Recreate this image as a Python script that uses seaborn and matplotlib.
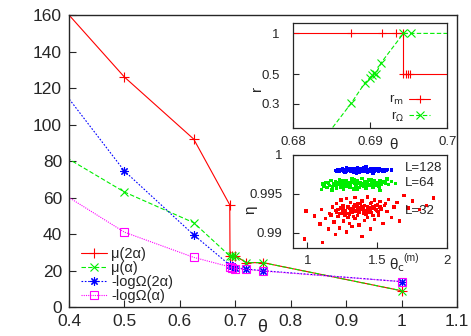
import numpy as np
import pandas as pd
import matplotlib
matplotlib.use("Agg")
import matplotlib.pyplot as plt
import seaborn as sns

sns.set_style("ticks")
plt.rcParams['font.family'] = ['Liberation Sans', 'DejaVu Sans']

# ---------------- main panel data ----------------
theta_mu2 = [0.375, 0.5, 0.625, 0.690, 0.6905, 0.694, 0.70, 0.72, 0.75, 1.0]
mu2 = [168.5, 126, 92, 56, 28, 28, 28, 24.3, 24.3, 8.9]
theta_mu1 = [0.375, 0.5, 0.625, 0.690, 0.694, 0.70, 0.72, 0.75, 1.0]
mu1 = [85.5, 63, 46.2, 28, 28, 28, 24.3, 24.3, 8.9]
theta_om2 = [0.375, 0.5, 0.625, 0.690, 0.694, 0.70, 0.72, 0.75, 1.0]
om2 = [124, 74.5, 39.5, 23, 22.2, 21.5, 20.8, 19.9, 13.9]
theta_om1 = [0.375, 0.5, 0.625, 0.690, 0.694, 0.70, 0.72, 0.75, 1.0]
om1 = [64.75, 41, 27.2, 22, 21.6, 21, 20.6, 19.7, 13.9]

main_xticks = [0.4, 0.5, 0.6, 0.7, 0.8, 0.9, 1.0, 1.1]
main_xticklabels = ['0.4', '0.5', '0.6', '0.7', '0.8', '0.9', '1', '1.1']
main_yticks = [0, 20, 40, 60, 80, 100, 120, 140, 160]

# ---------------- inset 1 data ----------------
theta_rm = [0.670, 0.6875, 0.6915, 0.6933, 0.6943, 0.6943, 0.6946, 0.6949, 0.6952, 0.710]
rm = [1, 1, 1, 1, 1, 0.5, 0.5, 0.5, 0.5, 0.5]
theta_rom = [0.683, 0.6875, 0.6893, 0.6899, 0.6902, 0.6905, 0.6907, 0.6914, 0.6943, 0.6953, 0.710]
rom = [0.14, 0.303, 0.43, 0.465, 0.49, 0.51, 0.50, 0.606, 1, 1, 1]

# ---------------- inset 2 data (point clouds) ----------------
L128_x = [1.20, 1.21, 1.22, 1.23, 1.24, 1.25, 1.26, 1.27, 1.28, 1.29, 1.30, 1.31, 1.32, 1.33,
          1.34, 1.35, 1.36, 1.37, 1.38, 1.39, 1.40, 1.41, 1.42, 1.43, 1.44, 1.45, 1.46, 1.47,
          1.48, 1.49, 1.50, 1.51, 1.52, 1.53, 1.55, 1.57, 1.60,
          1.305, 1.315, 1.325, 1.335, 1.345, 1.355, 1.365, 1.375, 1.385, 1.395, 1.405, 1.415,
          1.425, 1.435, 1.445, 1.455, 1.465, 1.475, 1.485, 1.35, 1.42, 1.28, 1.47,
          1.255, 1.275, 1.295, 1.495, 1.515, 1.535, 1.545, 1.565]
L128_y = [0.99800, 0.99790, 0.99812, 0.99785, 0.99805, 0.99822, 0.99795, 0.99778, 0.99815,
          0.99800, 0.99830, 0.99788, 0.99810, 0.99772, 0.99825, 0.99798, 0.99840, 0.99780,
          0.99815, 0.99800, 0.99835, 0.99790, 0.99818, 0.99776, 0.99808, 0.99828, 0.99795,
          0.99812, 0.99785, 0.99820, 0.99800, 0.99790, 0.99815, 0.99805, 0.99795, 0.99812,
          0.99805,
          0.99805, 0.99822, 0.99795, 0.99808, 0.99785, 0.99818, 0.99800, 0.99830, 0.99792,
          0.99812, 0.99805, 0.99825, 0.99798, 0.99815, 0.99788, 0.99808, 0.99822, 0.99800,
          0.99808, 0.99765, 0.99845, 0.99832, 0.99770,
          0.99808, 0.99790, 0.99818, 0.99810, 0.99825, 0.99792, 0.99815, 0.99800]
L64_x = [1.11, 1.12, 1.13, 1.14, 1.15, 1.16, 1.17, 1.18, 1.19, 1.20, 1.21, 1.22, 1.23, 1.24,
         1.25, 1.26, 1.27, 1.28, 1.29, 1.30, 1.31, 1.32, 1.33, 1.34, 1.35, 1.36, 1.37, 1.38,
         1.39, 1.40, 1.41, 1.42, 1.43, 1.44, 1.45, 1.46, 1.47, 1.48, 1.49, 1.50, 1.51, 1.52,
         1.53, 1.54, 1.56, 1.58, 1.60, 1.63,
         1.185, 1.205, 1.225, 1.245, 1.265, 1.285, 1.305, 1.325, 1.345, 1.365, 1.385, 1.405,
         1.425, 1.445, 1.465, 1.485, 1.505, 1.525, 1.255, 1.355, 1.455, 1.305, 1.415, 1.175,
         1.52, 1.57, 1.10,
         1.215, 1.275, 1.335, 1.395, 1.435, 1.475, 1.515, 1.235, 1.315, 1.375, 1.495]
L64_y = [0.99625, 0.99600, 0.99650, 0.99580, 0.99640, 0.99610, 0.99670, 0.99590, 0.99635,
         0.99660, 0.99570, 0.99620, 0.99685, 0.99600, 0.99645, 0.99555, 0.99630, 0.99675,
         0.99595, 0.99650, 0.99610, 0.99690, 0.99565, 0.99640, 0.99605, 0.99665, 0.99585,
         0.99625, 0.99700, 0.99600, 0.99655, 0.99575, 0.99635, 0.99680, 0.99610, 0.99650,
         0.99590, 0.99665, 0.99625, 0.99645, 0.99600, 0.99670, 0.99630, 0.99655, 0.99640,
         0.99620, 0.99660, 0.99635,
         0.99625, 0.99610, 0.99650, 0.99635, 0.99600, 0.99640, 0.99625, 0.99655, 0.99615,
         0.99640, 0.99605, 0.99630, 0.99660, 0.99620, 0.99640, 0.99610, 0.99635, 0.99620,
         0.99675, 0.99565, 0.99685, 0.99585, 0.99595, 0.99550, 0.99545, 0.99690, 0.99560,
         0.99645, 0.99615, 0.99680, 0.99630, 0.99605, 0.99660, 0.99590, 0.99590, 0.99670,
         0.99645, 0.99615]
L32_x = [0.98, 0.99, 1.05, 1.09, 1.11, 1.10, 1.13, 1.15, 1.16, 1.18, 1.19, 1.20, 1.20, 1.21,
         1.22, 1.23, 1.24, 1.24, 1.25, 1.26, 1.26, 1.27, 1.28, 1.28, 1.29, 1.30, 1.30, 1.31,
         1.32, 1.32, 1.33, 1.34, 1.34, 1.35, 1.36, 1.36, 1.37, 1.38, 1.39, 1.39, 1.40, 1.41,
         1.41, 1.42, 1.43, 1.43, 1.44, 1.45, 1.45, 1.46, 1.47, 1.48, 1.48, 1.49, 1.50, 1.51,
         1.52, 1.53, 1.54, 1.55, 1.57, 1.58, 1.60, 1.62, 1.64, 1.66, 1.69, 1.72, 1.75, 1.80,
         1.90, 1.85,
         1.22, 1.25, 1.27, 1.29, 1.31, 1.33, 1.35, 1.37, 1.38, 1.40, 1.42, 1.44, 1.46, 1.47,
         1.49, 1.50, 1.52, 1.23, 1.33, 1.43,
         1.21, 1.26, 1.30, 1.34, 1.39, 1.45, 1.51, 1.56, 1.17, 1.36, 1.41, 1.48,
         1.255, 1.285, 1.315, 1.345, 1.375, 1.405, 1.435, 1.465, 1.495, 1.525]
L32_y = [0.98920, 0.99280, 0.99215, 0.99110, 0.98875, 0.99300, 0.99180, 0.99050, 0.99250,
         0.99330, 0.99140, 0.98975, 0.99290, 0.99380, 0.99210, 0.99060, 0.99320, 0.99420,
         0.99250, 0.99150, 0.99350, 0.99280, 0.99010, 0.99440, 0.99200, 0.99310, 0.99120,
         0.99390, 0.99260, 0.99080, 0.99340, 0.99180, 0.99450, 0.99280, 0.99220, 0.99370,
         0.99100, 0.99300, 0.98955, 0.99410, 0.99250, 0.99160, 0.99350, 0.99290, 0.99460,
         0.99200, 0.99320, 0.99050, 0.99380, 0.99260, 0.99340, 0.99420, 0.99170, 0.99300,
         0.99360, 0.99230, 0.99400, 0.99310, 0.99120, 0.99350, 0.99270, 0.99430, 0.99200,
         0.99330, 0.99390, 0.99150, 0.99480, 0.99320, 0.99410, 0.99300, 0.99445, 0.99350,
         0.99300, 0.99350, 0.99230, 0.99330, 0.99270, 0.99210, 0.99340, 0.99260, 0.99380,
         0.99310, 0.99240, 0.99280, 0.99390, 0.99220, 0.99350, 0.99270, 0.99330, 0.99250,
         0.99300, 0.99330,
         0.99260, 0.99310, 0.99240, 0.99360, 0.99330, 0.99290, 0.99270, 0.99380, 0.99230,
         0.99300, 0.99270, 0.99330,
         0.99280, 0.99250, 0.99305, 0.99275, 0.99320, 0.99285, 0.99260, 0.99310, 0.99285,
         0.99300]

RED, GREEN, BLUE, MAG = '#ff0000', '#00ee00', '#0000ff', '#ff00ff'

fig = plt.figure(figsize=(4.71, 3.36), dpi=100)
ax = fig.add_axes([0.1465, 0.0863, 0.8238, 0.869])

def line(a, x, y, color, marker, ls, label, ms=6, mfc=None, lw=0.8):
    sns.lineplot(x=x, y=y, ax=a, color=color, marker=marker, linestyle=ls,
                 sort=False, estimator=None, label=label, linewidth=lw,
                 markersize=ms, markeredgecolor=color, markeredgewidth=0.8,
                 markerfacecolor=(color if mfc is None else mfc), clip_on=True)

line(ax, theta_mu2, mu2, RED, '+', '-', 'μ(2α)', ms=7)
line(ax, theta_mu1, mu1, GREEN, 'x', (0, (4, 2)), 'μ(α)', ms=6)
line(ax, theta_om2, om2, BLUE, (8, 2, 0), (0, (1.5, 1.5)), '-logΩ(2α)', ms=6)
line(ax, theta_om1, om1, MAG, 's', (0, (1, 1)), '-logΩ(α)', ms=6, mfc='none')

ax.set_xlim(0.4, 1.1)
ax.set_ylim(0, 160)
ax.set_xticks(main_xticks)
ax.set_xticklabels(main_xticklabels)
ax.set_yticks(main_yticks)
ax.tick_params(direction='in', length=5, width=0.8, labelsize=12.5,
               top=False, right=False)
ax.tick_params(axis='y', pad=5)
ax.tick_params(axis='x', pad=5)
for s in ax.spines.values():
    s.set_visible(True)
    s.set_linewidth(1.0)
ax.set_xlabel('')
ax.set_ylabel('')
fig.text(262 / 471, 1 - 327 / 336, 'θ', fontsize=13, ha='center', va='center')

h, l = ax.get_legend_handles_labels()
ax.legend(h, l, loc='lower left', bbox_to_anchor=(0.03, 0.015), frameon=False,
          fontsize=10.5, handlelength=1.8, handletextpad=0.3, labelspacing=0.0,
          borderpad=0, borderaxespad=0)

# ---------------- inset 1 ----------------
ax1 = fig.add_axes([0.6228, 0.6199, 0.327, 0.3125])
line(ax1, theta_rm, rm, RED, '+', '-', r'r$_{\mathrm{m}}$', ms=6)
line(ax1, theta_rom, rom, GREEN, 'x', (0, (4, 2)), 'r$_{Ω}$', ms=6)
ax1.set_yscale('log')
ax1.set_xlim(0.68, 0.70)
ax1.set_ylim(0.2, 1.2)
ax1.set_xticks([0.68, 0.69, 0.70])
ax1.set_xticklabels(['0.68', '0.69', '0.7'])
ax1.set_yticks([0.3, 0.5, 1])
ax1.set_yticklabels(['0.3', '0.5', '1'])
ax1.yaxis.set_minor_locator(matplotlib.ticker.NullLocator())
ax1.tick_params(direction='in', length=4, width=0.8, labelsize=9.5,
                top=False, right=False)
ax1.tick_params(axis='y', pad=10)
ax1.tick_params(axis='x', pad=6)
ax1.set_xlabel('')
ax1.set_ylabel('')
for s in ax1.spines.values():
    s.set_visible(True)
    s.set_linewidth(0.9)
fig.text(393 / 471, 1 - 145 / 336, 'θ', fontsize=11, ha='center', va='center')
fig.text(257 / 471, 1 - 88 / 336, 'r', fontsize=11, ha='center', va='center', rotation=90)
h1, l1 = ax1.get_legend_handles_labels()
ax1.legend(h1, l1, loc='lower right', bbox_to_anchor=(0.89, 0.04), frameon=False,
           fontsize=9.5, markerfirst=False, handlelength=1.6, handletextpad=0.4,
           labelspacing=0.15, borderpad=0, borderaxespad=0)

# ---------------- inset 2 ----------------
ax2 = fig.add_axes([0.6228, 0.2610, 0.327, 0.2777])
df = pd.DataFrame({
    'x': L32_x + L64_x + L128_x,
    'y': L32_y + L64_y + L128_y,
    'L': ['32'] * len(L32_x) + ['64'] * len(L64_x) + ['128'] * len(L128_x),
})
sns.scatterplot(data=df, x='x', y='y', hue='L', palette={'32': RED, '64': GREEN, '128': BLUE},
                ax=ax2, s=6, marker='s', linewidth=0, legend=False)
ax2.set_xlim(0.9, 2.0)
ax2.set_ylim(0.988, 1.0)
ax2.set_xticks([1, 1.5, 2])
ax2.set_xticklabels(['1', '1.5', '2'])
ax2.set_yticks([0.99, 0.995, 1])
ax2.set_yticklabels(['0.99', '0.995', '1'])
ax2.tick_params(direction='in', length=4, width=0.8, labelsize=9.5,
                top=False, right=False)
ax2.tick_params(axis='y', pad=8)
ax2.tick_params(axis='x', pad=5)
ax2.set_xlabel('')
ax2.set_ylabel('')
for s in ax2.spines.values():
    s.set_visible(True)
    s.set_linewidth(0.9)
for txt, yv in [('L=128', 0.99839), ('L=64', 0.99638), ('L=32', 0.99282)]:
    ax2.text(1.70, yv, txt, fontsize=9.5, ha='left', va='center')
fig.text(250 / 471, 1 - 210 / 336, 'η', fontsize=11, ha='center', va='center', rotation=90)
fig.text(389 / 471, 1 - 265 / 336, 'θ$_{\\mathrm{c}}$', fontsize=11, ha='left', va='center')
fig.text(403 / 471, 1 - 258 / 336, '(m)', fontsize=7.5, ha='left', va='center')

fig.savefig('out.png', dpi=100)
